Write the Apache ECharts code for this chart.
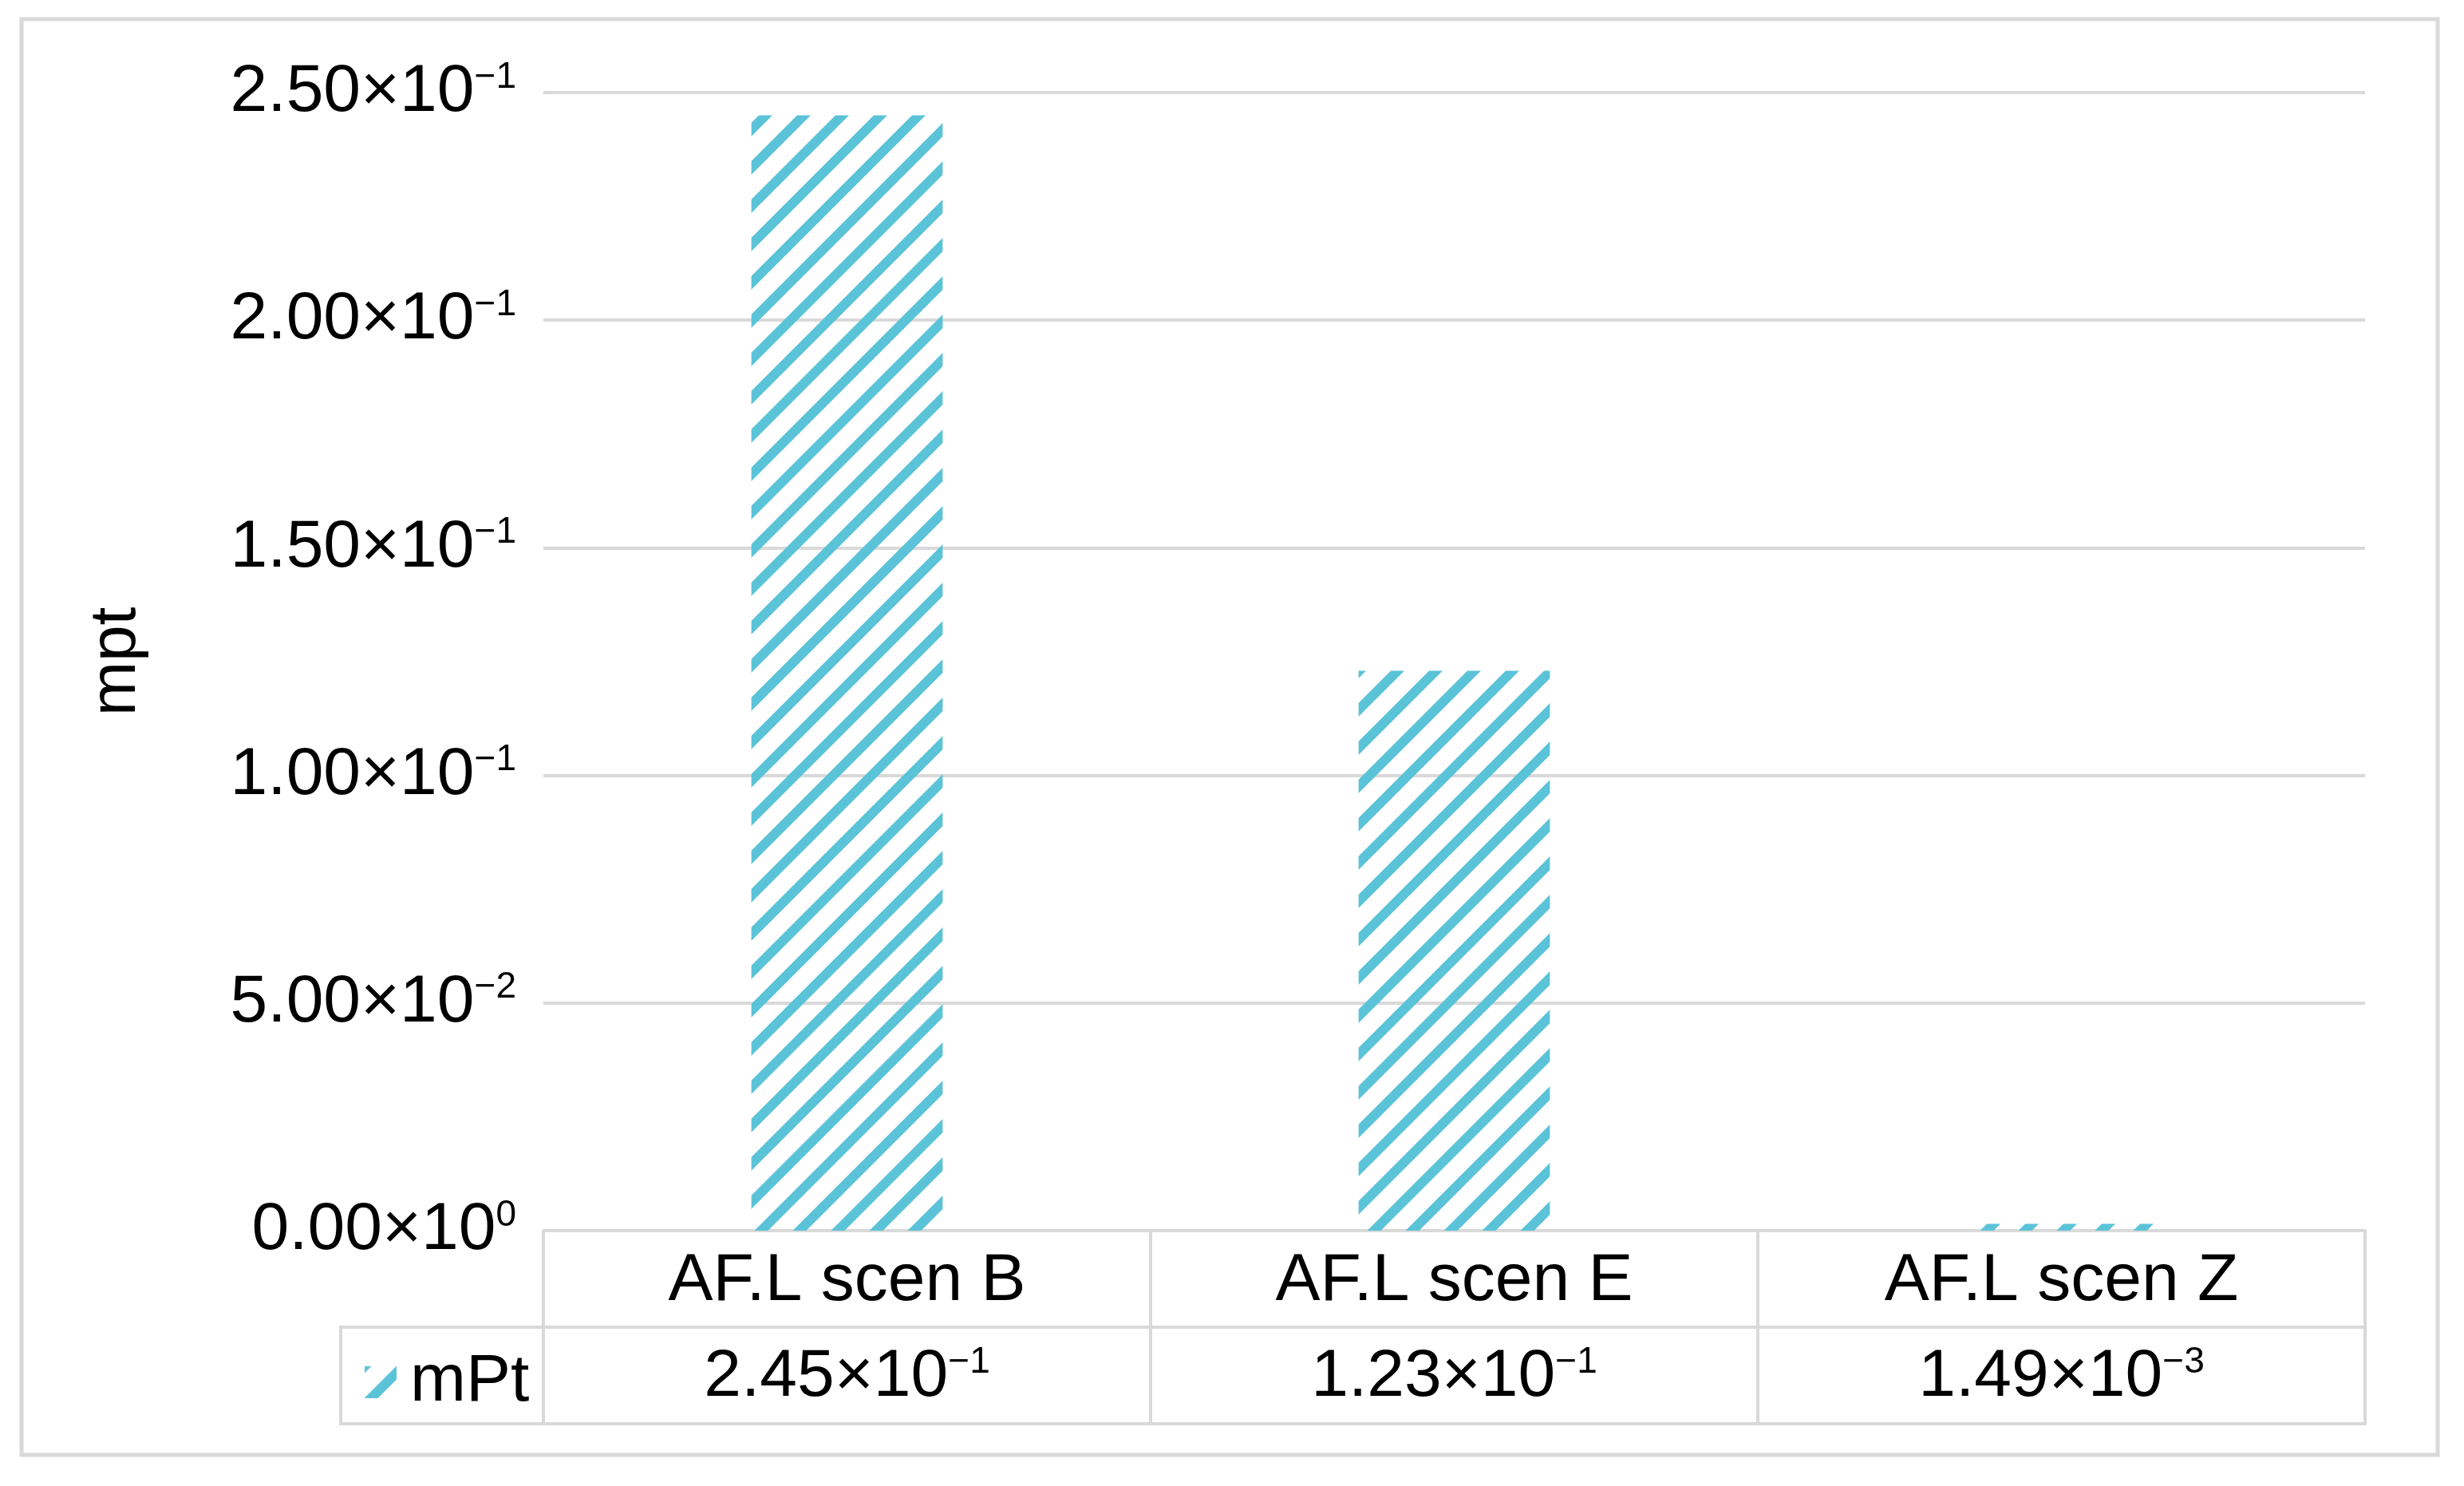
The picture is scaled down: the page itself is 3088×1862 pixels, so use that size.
<!DOCTYPE html>
<html>
<head>
<meta charset="utf-8">
<title>mpt</title>
<script src="https://cdn.jsdelivr.net/npm/echarts@6/dist/echarts.min.js"></script>
<style>
  html, body { margin: 0; padding: 0; background: #fff; }
  #chart { width: 3088px; height: 1862px; }
</style>
</head>
<body>
<div id="chart"></div>
<script>
// data
const categories = ['AF.L scen B', 'AF.L scen E', 'AF.L scen Z'];
const seriesName = 'mPt';
const mPtValues = [0.245, 0.123, 0.00149];
const yAxisName = 'mpt';
const yMin = 0;
const yMax = 0.25;
const yStep = 0.05;

const FONT = '"Liberation Sans", Arial, sans-serif';
const GRAY = '#d9d9d9';
const HATCH = '#5bc3d8';
const FS = 84;

// plot box (table hangs under the zero line)
const gridLeft = 681;
const gridRight = 124;
const gridTop = 116;
const gridBottom = 320;
const rowH = 121;
const zeroY = 1862 - gridBottom;

// 1.23e-1 -> rich "1.23×10" + superscript "−1"
const sci = (v) => {
  const parts = v.toExponential(2).split('e');
  const exp = String(parseInt(parts[1], 10)).replace('-', '\u2212');
  return '{m|' + parts[0] + '×10}{e|' + exp + '}';
};

const sciRich = {
  m: { fontSize: FS, lineHeight: FS, color: '#000', fontFamily: FONT },
  e: { fontSize: 46, lineHeight: 54, verticalAlign: 'top', color: '#000', fontFamily: FONT }
};

// wide upward diagonal hatch, like the office pattern fill
const makeHatch = (color) => {
  const s = 48;
  const c = document.createElement('canvas');
  c.width = s;
  c.height = s;
  const ctx = c.getContext('2d');
  ctx.strokeStyle = color;
  ctx.lineWidth = 12;
  for (let k = -1; k <= 1; k++) {
    // run past the tile edges so the caps never show at the seams
    ctx.beginPath();
    ctx.moveTo(k * s - s, 2 * s);
    ctx.lineTo(k * s + 2 * s, -s);
    ctx.stroke();
  }
  return c;
};

const hatchFill = { image: makeHatch(HATCH), repeat: 'repeat' };

const chart = echarts.init(document.getElementById('chart'));

const option = {
  animation: false,
  backgroundColor: '#fff',
  textStyle: { fontFamily: FONT },
  grid: {
    left: gridLeft,
    right: gridRight,
    top: gridTop,
    bottom: gridBottom,
    containLabel: false
  },
  legend: {
    left: 452,
    top: zeroY + rowH + 22,
    icon: 'rect',
    itemWidth: 40,
    itemHeight: 40,
    data: [seriesName],
    textStyle: { fontSize: FS, lineHeight: FS, color: '#000', fontFamily: FONT, padding: [0, 0, 0, 12] }
  },
  xAxis: [
    {
      type: 'category',
      data: categories,
      position: 'bottom',
      axisLine: { show: true, lineStyle: { color: GRAY, width: 4 } },
      axisTick: { show: true, length: rowH * 2, lineStyle: { color: GRAY, width: 4 } },
      axisLabel: { fontSize: FS, lineHeight: FS, color: '#000', margin: 22, fontFamily: FONT }
    },
    {
      type: 'category',
      data: categories,
      position: 'bottom',
      offset: rowH,
      axisLine: { show: true, lineStyle: { color: GRAY, width: 4 } },
      axisTick: { show: false },
      axisLabel: {
        margin: 21,
        formatter: (val, idx) => sci(mPtValues[idx]),
        rich: sciRich
      }
    },
    {
      type: 'category',
      data: categories,
      position: 'bottom',
      offset: rowH * 2,
      axisLine: { show: true, lineStyle: { color: GRAY, width: 4 } },
      axisTick: { show: false },
      axisLabel: { show: false }
    }
  ],
  yAxis: {
    type: 'value',
    min: yMin,
    max: yMax,
    interval: yStep,
    name: yAxisName,
    nameLocation: 'middle',
    nameRotate: 90,
    nameGap: 494,
    nameTextStyle: { fontSize: 82, color: '#000', fontFamily: FONT },
    axisLine: { show: false },
    axisTick: { show: false },
    splitLine: { lineStyle: { color: GRAY, width: 4 } },
    axisLabel: {
      margin: 34,
      formatter: (v) => sci(v),
      rich: sciRich
    }
  },
  series: [
    {
      name: seriesName,
      type: 'bar',
      xAxisIndex: 0,
      data: mPtValues,
      barWidth: '31.5%',
      itemStyle: { color: hatchFill }
    }
  ],
  graphic: [
    {
      // outer frame
      type: 'rect',
      shape: { x: 27, y: 24, width: 3028, height: 1799 },
      style: { fill: null, stroke: GRAY, lineWidth: 5 },
      silent: true
    },
    {
      // legend cell of the data table
      type: 'rect',
      shape: { x: 427, y: zeroY + rowH, width: gridLeft - 427, height: rowH },
      style: { fill: null, stroke: GRAY, lineWidth: 4 },
      silent: true
    }
  ]
};

chart.setOption(option);
</script>
</body>
</html>
